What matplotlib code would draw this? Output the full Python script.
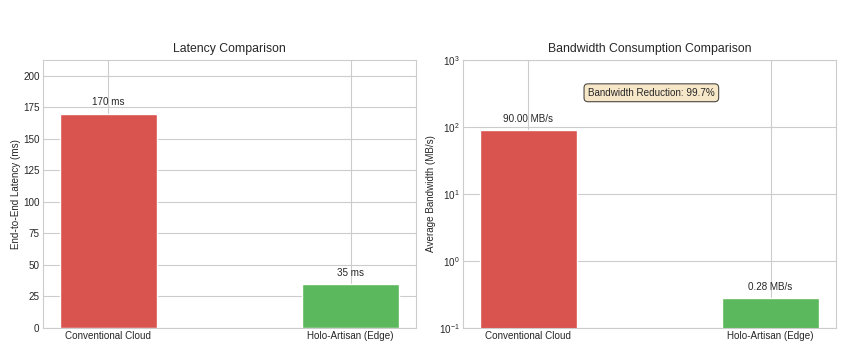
import matplotlib
matplotlib.use("Agg")
import matplotlib.pyplot as plt
import seaborn as sns

# data
systems = ["Conventional Cloud", "Holo-Artisan (Edge)"]
latency_ms = [170, 35]
bandwidth_mbs = [90.0, 0.28]
bar_colors = ["#d9534f", "#5cb85c"]

sns.set_style("whitegrid")
plt.rcParams['font.family'] = ['Liberation Sans', 'DejaVu Sans']
plt.rcParams['mathtext.fontset'] = 'custom'
plt.rcParams['mathtext.rm'] = 'Liberation Sans'
plt.rcParams['mathtext.it'] = 'Liberation Sans'

fig = plt.figure(figsize=(8.47, 3.53), dpi=100)
ax1 = fig.add_axes([0.0508, 0.0708, 0.4404, 0.759])
ax2 = fig.add_axes([0.5466, 0.0708, 0.4404, 0.759])

fs = 7.1

# latency panel
bars = ax1.bar(systems, latency_ms, width=0.4, color=bar_colors)
for b, v in zip(bars, latency_ms):
    ax1.text(b.get_x() + b.get_width() / 2, v + 5, f"{v} ms",
             ha="center", va="bottom", fontsize=fs)
ax1.set_ylim(0, max(latency_ms) * 1.25)
ax1.set_ylabel("End\u2011to\u2011End Latency (ms)", fontsize=fs)
ax1.yaxis.set_label_coords(-0.059, 0.5)
ax1.set_title("Latency Comparison", fontsize=8.8)

# bandwidth panel (log)
bars = ax2.bar(systems, bandwidth_mbs, width=0.4, color=bar_colors)
ax2.set_yscale("log")
ax2.set_ylim(0.1, 1000)
for b, v in zip(bars, bandwidth_mbs):
    ax2.text(b.get_x() + b.get_width() / 2, v * 1.25, f"{v:.2f} MB/s",
             ha="center", va="bottom", fontsize=fs)
reduction = (1 - bandwidth_mbs[1] / bandwidth_mbs[0]) * 100
ax2.text(0.505, 0.878, f"Bandwidth Reduction: {reduction:.1f}%",
         transform=ax2.transAxes, ha="center", va="center", fontsize=fs,
         bbox=dict(boxstyle="round,pad=0.4", facecolor="wheat", alpha=0.7,
                   edgecolor="black", linewidth=0.8))
ax2.set_ylabel("Average Bandwidth (MB/s)", fontsize=fs)
ax2.yaxis.set_label_coords(-0.072, 0.5)
ax2.set_title("Bandwidth Consumption Comparison", fontsize=8.8)
ax2.minorticks_off()

for ax in (ax1, ax2):
    ax.tick_params(labelsize=fs, length=0, pad=2.5)

fig.savefig("out.png", dpi=100)
